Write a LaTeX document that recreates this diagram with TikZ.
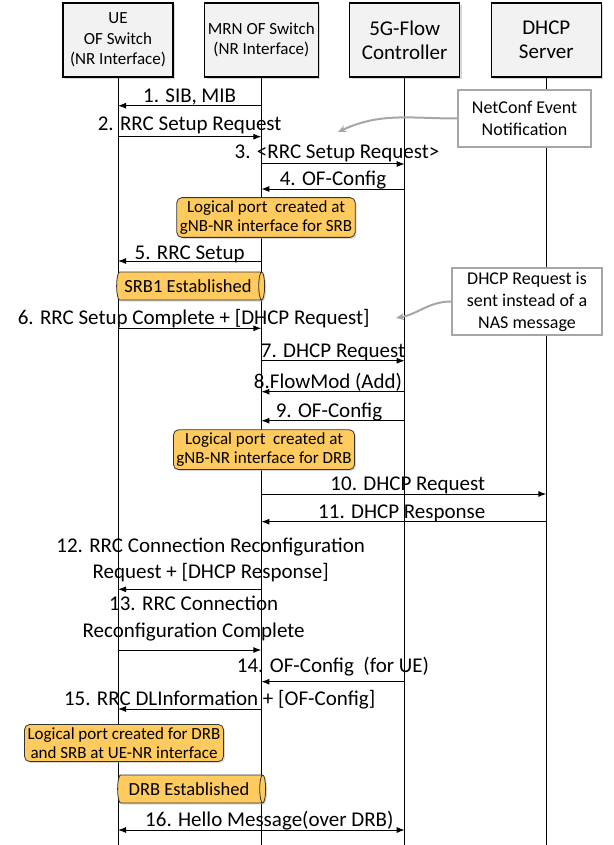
\documentclass[tikz,border=0pt]{standalone}
\usepackage{fontspec}
\setmainfont{Carlito}
\usepackage{tikz}
\usetikzlibrary{positioning}
\usetikzlibrary{shapes.geometric, arrows.meta, shadows}
\definecolor{boxgray}{RGB}{242,242,242}
\definecolor{portyellow}{RGB}{255,202,94}
\definecolor{notegray}{RGB}{166,166,166}
\tikzstyle{entity} = [draw,line width=1.1pt,fill=boxgray,minimum width=110pt,minimum height=74pt,align=center,drop shadow={shadow xshift=2pt,shadow yshift=-2pt,fill=black!30}]
\tikzstyle{lifeline} = [line width=0.9pt]
\tikzstyle{arrow} = [line width=1pt,-{Latex[length=8pt,width=6pt]}]
\tikzstyle{dblarrow} = [line width=1pt,{Latex[length=8pt,width=6pt]}-{Latex[length=8pt,width=6pt]}]
\tikzstyle{msg} = [anchor=base,inner sep=0pt,yshift=3.5pt,align=center,font=\fontsize{21}{26.5}\selectfont]
\tikzstyle{portbox} = [draw=black!80,line width=0.8pt,fill=portyellow,rounded corners=5pt,align=center,inner sep=3pt,font=\fontsize{17}{19}\selectfont,drop shadow={shadow xshift=1.5pt,shadow yshift=-1.5pt,fill=black!30}]
\tikzstyle{bearer} = [cylinder,draw=black!80,line width=0.8pt,fill=portyellow,aspect=0.3,minimum width=28pt,minimum height=148pt,font=\fontsize{18.5}{20}\selectfont,drop shadow={shadow xshift=1.5pt,shadow yshift=-1.5pt,fill=black!30}]
\tikzstyle{note} = [draw=notegray,line width=1.5pt,fill=white,align=center,font=\fontsize{18}{22}\selectfont]
\tikzstyle{callout} = [draw=notegray,line width=2pt,-{Stealth[length=8pt,width=7pt]}]

\begin{document}
\begin{tikzpicture}[x=1pt,y=-1pt]
\useasboundingbox (0,0) rectangle (613,845);

%Nodes
\node[entity,font=\fontsize{17}{20.5}\selectfont] (ue) at (118,40) {UE\\OF Switch\\(NR Interface)};
\node[entity,font=\fontsize{17}{20.5}\selectfont,right=30.5pt of ue] (mrn) {MRN OF Switch\\(NR Interface)};
\node[entity,font=\fontsize{21}{24}\selectfont,right=30.5pt of mrn] (ctrl) {5G-Flow\\Controller};
\node[entity,font=\fontsize{21}{24}\selectfont,right=30.5pt of ctrl] (dhcp) {DHCP\\Server};
\coordinate (bottom) at (0,845);

%Lifelines
\draw[lifeline] (ue) -- (ue |- bottom);
\draw[lifeline] (mrn) -- (mrn |- bottom);
\draw[lifeline] (ctrl) -- (ctrl |- bottom);
\draw[lifeline] (dhcp) -- (dhcp |- bottom);

%Message rows
\coordinate (m1) at (0,105.7);
\coordinate (m2) at (0,136.7);
\coordinate (m3) at (0,164);
\coordinate (m4) at (0,189);
\coordinate (m5) at (0,261);
\coordinate (m6) at (0,328.3);
\coordinate (m7) at (0,360.7);
\coordinate (m8) at (0,391.7);
\coordinate (m9) at (0,420.7);
\coordinate (m10) at (0,494);
\coordinate (m11) at (0,521.7);
\coordinate (m12) at (0,589.3);
\coordinate (m13) at (0,650);
\coordinate (m14) at (0,681.7);
\coordinate (m15) at (0,709);
\coordinate (m16) at (0,830);

%Messages
\draw[arrow] (mrn |- m1) -- node[msg] {1. SIB, MIB} (ue |- m1);
\draw[arrow] (ue |- m2) -- node[msg,yshift=3pt] {2. RRC Setup Request} (mrn |- m2);
\draw[arrow] (mrn |- m3) -- node[msg,xshift=4pt,yshift=2pt] {3. <RRC Setup Request>} (ctrl |- m3);
\draw[arrow] (ctrl |- m4) -- node[msg] {4. OF-Config} (mrn |- m4);
\draw[arrow] (mrn |- m5) -- node[msg,yshift=-2pt] {5. RRC Setup} (ue |- m5);
\draw[arrow] (ue |- m6) -- node[msg,xshift=4pt] {6. RRC Setup Complete + [DHCP Request]} (mrn |- m6);
\draw[arrow] (mrn |- m7) -- node[msg] {7. DHCP Request} (ctrl |- m7);
\draw[arrow] (ctrl |- m8) -- node[msg,xshift=-5pt] {8.FlowMod (Add)} (mrn |- m8);
\draw[arrow] (ctrl |- m9) -- node[msg,xshift=-4pt] {9. OF-Config} (mrn |- m9);
\draw[arrow] (mrn |- m10) -- node[msg,xshift=4pt] {10. DHCP Request} (dhcp |- m10);
\draw[arrow] (dhcp |- m11) -- node[msg,xshift=-2pt] {11. DHCP Response} (mrn |- m11);
\draw[arrow] (mrn |- m12) -- node[msg,anchor=south,xshift=21pt,yshift=3pt] {12. RRC Connection Reconfiguration\\Request + [DHCP Response]} (ue |- m12);
\draw[arrow] (ue |- m13) -- node[msg,anchor=south,xshift=4pt,yshift=5pt] {13. RRC Connection\\Reconfiguration Complete} (mrn |- m13);
\draw[arrow] (ctrl |- m14) -- node[msg,yshift=6pt] {14. OF-Config\ \ (for UE)} (mrn |- m14);
\draw[arrow] (mrn |- m15) -- node[msg,xshift=30pt] {15. RRC DLInformation + [OF-Config]} (ue |- m15);
\draw[dblarrow] (ue |- m16) -- node[msg,xshift=8pt] {16. Hello Message(over DRB)} (ctrl |- m16);

%Logical ports and bearers
\node[portbox] (srbport) at (266,217.5) {Logical port~ created at\\gNB-NR interface for SRB};
\node[bearer] (srb) at (188,286) {SRB1 Established};
\node[portbox] (drbport) at (264,449.7) {Logical port~ created at\\gNB-NR interface for DRB};
\node[portbox] (ueport) at (124,743) {Logical port created for DRB\\and SRB at UE-NR interface};
\node[bearer] (drb) at (189,789) {DRB Established};

%Notes
\node[note,minimum width=133pt,minimum height=57pt] (netconf) at (524.5,118.5) {NetConf Event\\Notification};
\coordinate (nctip) at (338,132);
\draw[callout] (netconf.west) to[out=180,in=25] (nctip);
\node[note,minimum width=150pt,minimum height=67pt] (dhcpnote) at (527,301.5) {DHCP Request is\\sent instead of a\\NAS message};
\coordinate (dhtip) at (396,318);
\draw[callout] (dhcpnote.west) to[out=180,in=10] (dhtip);
\end{tikzpicture}
\end{document}
